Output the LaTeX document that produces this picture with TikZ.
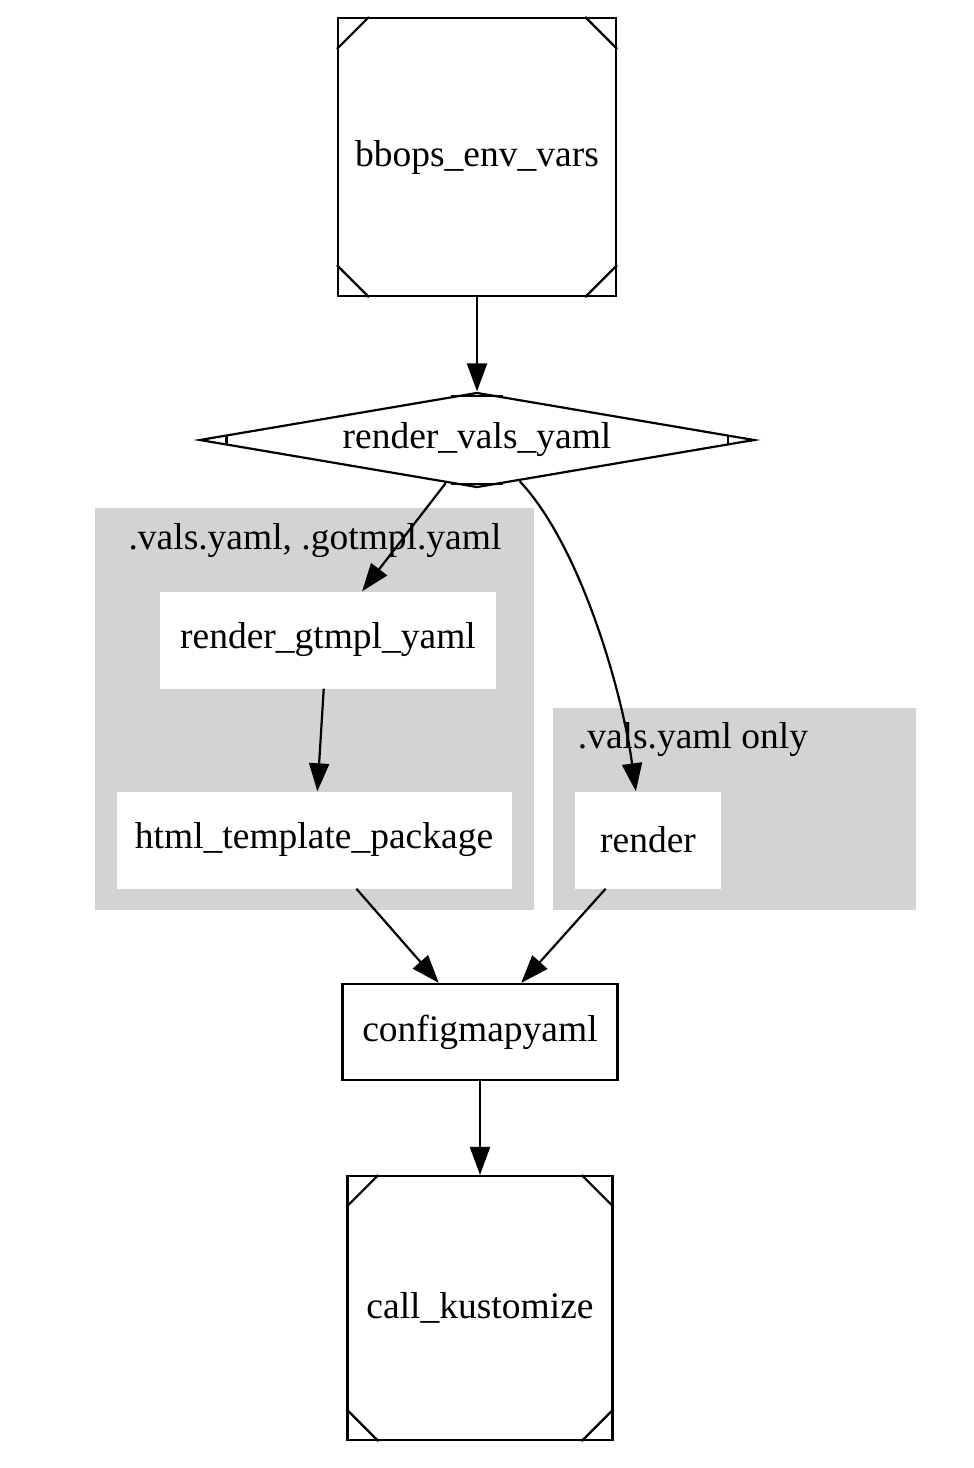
\documentclass[tikz,border=0pt]{standalone}
\usepackage{fontspec}
\setmainfont{Liberation Serif}
\usetikzlibrary{arrows.meta,shapes.geometric,calc}
\definecolor{clgray}{HTML}{D3D3D3}
\tikzset{
  every node/.style={font=\fontsize{37.5}{44}\selectfont},
  msq/.style={draw=black,line width=2.2pt,fill=white,rectangle,inner sep=0pt},
  wbox/.style={fill=white,rectangle,inner sep=0pt},
  obox/.style={draw=black,line width=2.2pt,fill=white,rectangle,inner sep=0pt},
  cluster/.style={fill=clgray,draw=none},
  edge/.style={line width=2.2pt,-{Triangle[length=28pt,width=20pt]}},
  tick/.style={line width=2.2pt}
}
\begin{document}
\begin{tikzpicture}[x=1pt,y=-1pt]
\useasboundingbox[fill=white] (0,0) rectangle (974,1468);
% clusters
\fill[cluster] (95,508) rectangle (534,910);
\fill[cluster] (553,708) rectangle (916,910);
\node (cl1) at (315,541) {.vals.yaml, .gotmpl.yaml};
\node (cl2) at (693,740) {.vals.yaml only};
% nodes
\node[msq,minimum width=278pt,minimum height=278pt] (bb) at (477,157) {bbops\_env\_vars};
\node[draw=black,line width=2.2pt,fill=white,diamond,aspect=5.84,inner sep=0pt,minimum width=555pt,minimum height=95pt] (rv) at (477,440) {render\_vals\_yaml};
\node[wbox,minimum width=336pt,minimum height=97pt] (rg) at (328,640) {render\_gtmpl\_yaml};
\node[wbox,minimum width=395pt,minimum height=97pt] (ht) at (314,840) {html\_template\_package};
\node[wbox,minimum width=146pt,minimum height=97pt] (rd) at (648,840) {render};
\node[obox,minimum width=275pt,minimum height=96pt] (cm) at (480,1032) {configmapyaml};
\node[msq,minimum width=265pt,minimum height=264pt] (ck) at (480,1308) {call\_kustomize};
% Msquare corners
\foreach \n in {bb,ck}{
  \draw[tick] ($(\n.north west)+(32,0)$) -- ($(\n.north west)+(0,32)$);
  \draw[tick] ($(\n.north east)+(-32,0)$) -- ($(\n.north east)+(0,32)$);
  \draw[tick] ($(\n.south west)+(32,0)$) -- ($(\n.south west)+(0,-32)$);
  \draw[tick] ($(\n.south east)+(-32,0)$) -- ($(\n.south east)+(0,-32)$);
}
% Mdiamond ticks
\draw[tick] ($(rv.west)+(28,-4.8)$) -- ($(rv.west)+(28,4.8)$);
\draw[tick] ($(rv.east)+(-28,-4.8)$) -- ($(rv.east)+(-28,4.8)$);
\draw[tick] ($(rv.north)+(-26,4.8)$) -- ($(rv.north)+(26,4.8)$);
\draw[tick] ($(rv.south)+(-26,-4.8)$) -- ($(rv.south)+(26,-4.8)$);
% edges
\draw[edge] (bb.south) -- (rv.north);
\draw[edge] (rv.-126) -- (rg.55);
\draw[edge] (rv.-44) .. controls (580,545) and (622,690) .. (rd.104);
\draw[edge] (rg.-95) -- (ht.86);
\draw[edge] (ht.-49) -- (cm.130);
\draw[edge] (rd.-131) -- (cm.50);
\draw[edge] (cm.south) -- (ck.north);
\end{tikzpicture}
\end{document}
